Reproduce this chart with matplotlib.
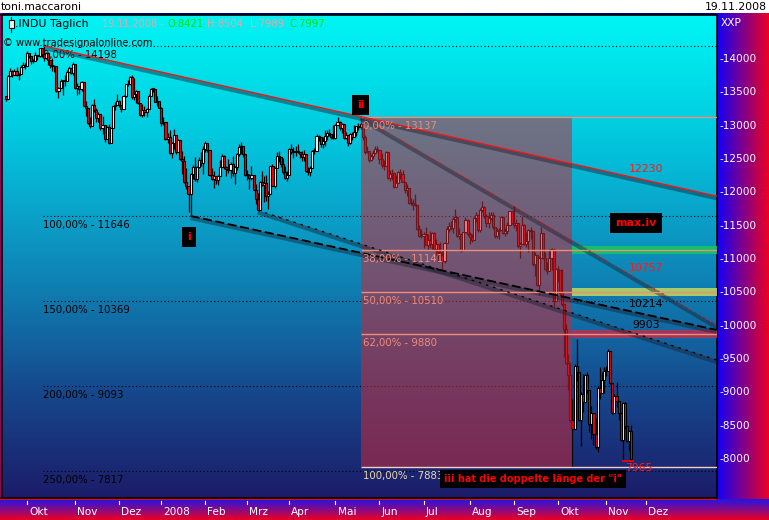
import numpy as np
import pandas as pd
import matplotlib
matplotlib.use("Agg")
import matplotlib.pyplot as plt
from matplotlib.patches import Rectangle
from matplotlib import transforms

# .INDU daily candles, 17.09.2007 - 19.11.2008
opens = [
    13441, 13403, 13739, 13815, 13767, 13820, 13759, 13779, 13878, 13913,
    13896, 14088, 14047, 13968, 13974, 14066, 14044, 14165, 14079, 14015, 14093, 13985,
    13913, 13893, 13889, 13522, 13567, 13676, 13675, 13672, 13807, 13870, 13792,
    13930, 13568, 13595, 13543, 13661, 13300, 13266, 13043, 12988, 13307, 13231, 13110,
    13177, 12958, 13010, 12799, 12981, 12743, 12958, 13289, 13312,
    13372, 13315, 13249, 13445, 13620, 13626, 13727, 13433, 13474, 13518, 13340, 13167,
    13232, 13207, 13246, 13451, 13549, 13552, 13360, 13366,
    13265, 13044, 13057, 12800, 12827, 12589, 12735, 12853, 12606, 12778, 12501, 12466,
    12159, 12099, 11971, 12270, 12379, 12207, 12384, 12480, 12443,
    12650, 12743, 12635, 12265, 12200, 12247, 12182, 12240, 12373, 12552, 12377, 12348,
    12337, 12427, 12284, 12381, 12570, 12685, 12694, 12582,
    12266, 12259, 12214, 12255, 12040, 11894, 11740, 12157, 12110, 12146, 11951, 11972,
    12393, 12100, 12361, 12549, 12533, 12423, 12302, 12216,
    12263, 12654, 12606, 12626, 12609, 12612, 12576, 12527, 12582, 12325, 12302, 12362,
    12619, 12620, 12849, 12825, 12720, 12763, 12849, 12892, 12872, 12831,
    12820, 13010, 13058, 12970, 13021, 12814, 12867, 12746, 12876, 12832, 12898, 12993,
    12987, 13028, 12829, 12601, 12626, 12480, 12548, 12594, 12646,
    12638, 12504, 12403, 12390, 12604, 12210, 12280, 12290, 12084, 12142, 12307, 12269,
    12160, 12029, 12063, 11843, 11842, 11807, 11812, 11453, 11347,
    11350, 11382, 11216, 11289, 11232, 11384, 11147, 11229, 11101, 11055, 10963, 11239,
    11447, 11497, 11467, 11603, 11632, 11349, 11371, 11131, 11398, 11584,
    11378, 11326, 11284, 11616, 11656, 11431, 11734, 11782, 11642, 11533, 11616, 11660,
    11479, 11349, 11417, 11430, 11628, 11386, 11413, 11503, 11715,
    11544, 11517, 11533, 11188, 11221, 11511, 11231, 11269, 11434, 11422, 10918, 11059,
    10610, 11020, 11388, 11016, 10854, 10825, 11022, 11143, 10365,
    10851, 10831, 10483, 10325, 9956, 9447, 9258, 8579, 8451, 9388, 9311, 8578,
    8979, 8852, 9265, 9034, 8519, 8691, 8379, 8176, 9065, 8991, 9181,
    9325, 9320, 9625, 9139, 8696, 8944, 8871, 8694, 8283, 8835, 8497, 8274, 8421,
]
highs = [
    13441, 13758, 13872, 13833, 13850, 13880, 13787, 13914, 13958, 13942,
    14116, 14090, 14052, 14000, 14105, 14066, 14169, 14165, 14198, 14100, 14093, 13985,
    14010, 13910, 13889, 13580, 13700, 13680, 13760, 13830, 13900, 13870, 13950,
    13930, 13640, 13600, 13670, 13661, 13370, 13266, 13130, 13320, 13400, 13260, 13210,
    13180, 13150, 13010, 12990, 13030, 12970, 13300, 13350, 13480,
    13390, 13315, 13460, 13630, 13680, 13750, 13760, 13720, 13530, 13518, 13340, 13320,
    13290, 13260, 13470, 13560, 13570, 13552, 13450, 13366,
    13280, 13130, 13057, 12890, 12930, 12750, 12950, 12853, 12800, 12778, 12620, 12540,
    12360, 12099, 12290, 12410, 12530, 12400, 12530, 12610, 12700,
    12770, 12743, 12635, 12370, 12320, 12250, 12260, 12480, 12580, 12560, 12390, 12500,
    12460, 12550, 12400, 12590, 12730, 12760, 12694, 12582,
    12330, 12270, 12400, 12255, 12130, 11990, 12170, 12320, 12250, 12260, 12020, 12400,
    12420, 12380, 12610, 12620, 12533, 12510, 12400, 12320,
    12670, 12730, 12680, 12700, 12730, 12612, 12620, 12640, 12582, 12380, 12400, 12640,
    12670, 12880, 12860, 12825, 12830, 12940, 12940, 12950, 12880, 13010,
    13020, 13130, 13070, 13040, 13030, 12910, 12867, 12890, 12910, 13010, 13000, 13040,
    13137, 13028, 12860, 12690, 12626, 12580, 12630, 12700, 12690,
    12640, 12590, 12490, 12620, 12604, 12330, 12350, 12300, 12260, 12320, 12350, 12330,
    12160, 12130, 12063, 11920, 11900, 11970, 11812, 11510, 11450,
    11400, 11480, 11380, 11420, 11400, 11400, 11300, 11229, 11250, 11120, 11250, 11500,
    11560, 11570, 11630, 11750, 11632, 11460, 11371, 11410, 11630, 11600,
    11400, 11370, 11630, 11710, 11656, 11760, 11870, 11790, 11680, 11700, 11710, 11700,
    11480, 11460, 11460, 11640, 11628, 11470, 11560, 11720, 11715,
    11790, 11600, 11533, 11250, 11650, 11530, 11400, 11450, 11480, 11422, 11110, 11059,
    11050, 11480, 11390, 11110, 10950, 11150, 11160, 11143, 10870,
    10900, 10831, 10850, 10325, 10030, 9580, 9450, 8900, 9430, 9794, 9311, 9010,
    9270, 9280, 9310, 9034, 8800, 8691, 8620, 9100, 9380, 9300, 9380,
    9400, 9654, 9625, 9139, 8970, 9150, 8871, 8694, 8850, 8850, 8500, 8440, 8504,
]
lows = [
    13363, 13397, 13739, 13734, 13767, 13743, 13680, 13779, 13878, 13856,
    13896, 14012, 13920, 13940, 13974, 13990, 14034, 14030, 13970, 14000, 13912, 13870,
    13820, 13800, 13510, 13410, 13560, 13460, 13600, 13672, 13807, 13780, 13760,
    13550, 13460, 13470, 13520, 13290, 13150, 13020, 12960, 12988, 13200, 13060, 13060,
    12930, 12870, 12760, 12799, 12720, 12740, 12958, 13230, 13312,
    13280, 13200, 13249, 13430, 13600, 13620, 13400, 13380, 13340, 13320, 13140, 13130,
    13150, 13130, 13246, 13451, 13500, 13350, 13290, 13260,
    12990, 13010, 12790, 12740, 12580, 12520, 12650, 12580, 12606, 12480, 12280, 12140,
    12050, 11700, 11646, 12200, 12170, 12150, 12360, 12400, 12280,
    12600, 12610, 12250, 12190, 12070, 12120, 12110, 12240, 12373, 12350, 12250, 12290,
    12220, 12250, 12130, 12340, 12540, 12580, 12530, 12250,
    12180, 12050, 12180, 12030, 11830, 11731, 11740, 12090, 11860, 11870, 11750, 11972,
    12090, 12070, 12361, 12460, 12380, 12280, 12200, 12170,
    12263, 12570, 12520, 12540, 12590, 12520, 12470, 12470, 12300, 12260, 12250, 12362,
    12570, 12620, 12770, 12680, 12670, 12700, 12780, 12850, 12800, 12800,
    12800, 13010, 12940, 12890, 12800, 12800, 12700, 12720, 12780, 12832, 12850, 12930,
    12950, 12780, 12580, 12590, 12460, 12470, 12500, 12580, 12610,
    12430, 12370, 12340, 12390, 12200, 12170, 12190, 12070, 12080, 12142, 12200, 12150,
    11990, 11940, 11820, 11810, 11730, 11790, 11440, 11330, 11310,
    11170, 11210, 11140, 11170, 11130, 11140, 11060, 10960, 11040, 10827, 10940, 11239,
    11400, 11430, 11390, 11560, 11330, 11300, 11110, 11131, 11390, 11350,
    11220, 11250, 11284, 11560, 11400, 11400, 11700, 11610, 11480, 11460, 11590, 11450,
    11310, 11310, 11300, 11430, 11370, 11340, 11380, 11503, 11530,
    11470, 11420, 11170, 11010, 11221, 11210, 11180, 11100, 11300, 10900, 10740, 10590,
    10460, 11020, 11000, 10840, 10780, 10825, 10830, 10270, 10365,
    10650, 10440, 10300, 9525, 9430, 9040, 8560, 7883, 8451, 9163, 8570, 8200,
    8700, 8850, 8990, 8400, 8300, 8210, 8150, 8110, 8900, 8990, 8990,
    9250, 9320, 9120, 8670, 8690, 8780, 8590, 8270, 7965, 8450, 8250, 8130, 7989,
]
closes = [
    13403, 13739, 13816, 13767, 13820, 13759, 13779, 13878, 13913, 13896,
    14088, 14047, 13968, 13974, 14066, 14044, 14165, 14079, 14015, 14093, 13985, 13913,
    13893, 13889, 13522, 13567, 13676, 13675, 13672, 13807, 13870, 13792, 13930,
    13568, 13595, 13543, 13661, 13300, 13266, 13043, 12988, 13307, 13231, 13110, 13177,
    12958, 13010, 12799, 12981, 12743, 12958, 13289, 13312, 13372,
    13315, 13249, 13445, 13620, 13626, 13727, 13433, 13474, 13518, 13340, 13167, 13232,
    13207, 13246, 13451, 13549, 13552, 13360, 13366, 13265,
    13044, 13057, 12800, 12827, 12589, 12735, 12853, 12606, 12778, 12501, 12466, 12159,
    12099, 11971, 12270, 12379, 12207, 12384, 12480, 12443, 12650,
    12743, 12635, 12265, 12200, 12247, 12182, 12240, 12373, 12552, 12377, 12348, 12337,
    12427, 12284, 12381, 12570, 12685, 12694, 12582, 12266,
    12259, 12214, 12255, 12040, 11894, 11740, 12157, 12110, 12146, 11951, 11972, 12393,
    12100, 12361, 12549, 12533, 12423, 12302, 12216, 12263,
    12654, 12606, 12626, 12609, 12612, 12576, 12527, 12582, 12325, 12302, 12362, 12619,
    12620, 12849, 12825, 12720, 12763, 12849, 12892, 12872, 12831, 12820,
    13010, 13058, 12970, 13021, 12814, 12867, 12746, 12876, 12832, 12898, 12993, 12987,
    13028, 12829, 12601, 12626, 12480, 12548, 12594, 12646, 12638,
    12504, 12403, 12390, 12604, 12210, 12280, 12290, 12084, 12142, 12307, 12269, 12160,
    12029, 12063, 11843, 11842, 11807, 11812, 11453, 11347, 11350,
    11382, 11216, 11289, 11232, 11384, 11147, 11229, 11101, 11055, 10963, 11239, 11447,
    11497, 11467, 11603, 11632, 11349, 11371, 11131, 11398, 11584, 11378,
    11326, 11284, 11616, 11656, 11431, 11734, 11782, 11642, 11533, 11616, 11660, 11479,
    11349, 11417, 11430, 11628, 11386, 11413, 11503, 11715, 11544,
    11517, 11533, 11188, 11221, 11511, 11231, 11269, 11434, 11422, 10918, 11059, 10610,
    11020, 11388, 11016, 10854, 10825, 11022, 11143, 10365, 10851,
    10831, 10483, 10325, 9956, 9447, 9258, 8579, 8451, 9388, 9311, 8578, 8979,
    8852, 9265, 9034, 8519, 8691, 8379, 8176, 9065, 8991, 9181, 9325,
    9320, 9625, 9139, 8696, 8944, 8871, 8694, 8283, 8835, 8497, 8274, 8425, 7997,
]

holidays = ["2007-11-22", "2007-12-25", "2008-01-01", "2008-01-21", "2008-02-18",
            "2008-03-21", "2008-05-26", "2008-07-04", "2008-09-01", "2008-11-27",
            "2008-12-25"]
month_labels = ["Okt", "Nov", "Dez", "2008", "Feb", "Mrz", "Apr", "Mai", "Jun",
                "Jul", "Aug", "Sep", "Okt", "Nov", "Dez"]
y_ticks = [14000, 13500, 13000, 12500, 12000, 11500, 11000, 10500, 10000,
           9500, 9000, 8500, 8000]

# fib extension (left) and retracement (right)
ext_levels = [14198, 11646, 10369, 9093, 7817]
ext_labels = ["0,00% - 14198", "100,00% - 11646", "150,00% - 10369",
              "200,00% - 9093", "250,00% - 7817"]
ret_levels = [13137, 11141, 10510, 9880, 7883]
ret_labels = ["0,00% - 13137", "38,00% - 11141", "50,00% - 10510",
              "62,00% - 9880", "100,00% - 7883"]
ret_start, ret_end = "2008-05-19", "2008-10-10"
band_levels = [11141, 10510, 9880]
band_colors = ["#14c464", "#b4d264", "#aa3458"]

# trend lines: anchor date, anchor value, value on last bar
trend_lines = [
    ("2007-10-11", 14198, 12230),
    ("2008-05-19", 13137, 10757),
    ("2008-01-23", 11646, 10214),
    ("2008-03-10", 11731, 9903),
]
low_mark = ("2008-11-13", 7965)

n = len(closes)
days = pd.bdate_range("2007-09-17", "2008-12-31", freq="C", holidays=holidays)
pos = {d.strftime("%Y-%m-%d"): i for i, d in enumerate(days)}
x = np.arange(n)
o = np.array(opens); h = np.array(highs); l = np.array(lows); c = np.array(closes)

W, H = 769, 520
fig = plt.figure(figsize=(W / 100, H / 100), dpi=100)
fig.patch.set_facecolor("white")


def px_axes(x0, y0, x1, y1, z):
    a = fig.add_axes([x0 / W, 1 - y1 / H, (x1 - x0) / W, (y1 - y0) / H], zorder=z)
    return a


# frame / gradient strips
bg = px_axes(0, 0, W, H, -1)
bg.set_xlim(0, W); bg.set_ylim(H, 0); bg.axis("off")
t = np.linspace(0, 1, 64)
blue, red = np.array([15, 0, 250]), np.array([235, 0, 35])
hgrad = (blue[None, :] * (1 - t[:, None]) + red[None, :] * t[:, None]) / 255
bg.imshow(hgrad[None, :, :], extent=(716, W, 500, 13), aspect="auto", interpolation="bilinear")
vtop = np.array([35, 20, 230])
vgrad = (vtop[None, :] * (1 - t[:, None]) + red[None, :] * t[:, None]) / 255
bg.imshow(vgrad[:, None, :], extent=(0, W, H, 499), aspect="auto", interpolation="bilinear")
bg.add_patch(Rectangle((0, 12.5), 716, 2.5, color="#00008c", lw=0))
bg.add_patch(Rectangle((0, 13), 1.6, 486, color="#9a0060", lw=0))
bg.add_patch(Rectangle((0, 497.5), 717, 2.5, color="#e6001e", lw=0))
bg.set_xlim(0, W); bg.set_ylim(H, 0)

ax = px_axes(1.5, 15, 716.5, 498, 1)
xmin = pos["2007-10-01"] - (27 - 1.5) / 2.098
xmax = pos["2007-10-01"] + (716.5 - 27) / 2.098
ymax = 14000 + (59 - 15) * 15
ymin = ymax - (498 - 15) * 15

stops = [(0.0, (0, 245, 245)), (0.10, (0, 228, 236)), (0.25, (2, 200, 222)),
         (0.42, (10, 160, 200)), (0.60, (16, 118, 172)), (0.78, (22, 72, 140)),
         (1.0, (28, 28, 105))]
ff = np.linspace(0, 1, 256)
grad = np.stack([np.interp(ff, [s[0] for s in stops], [s[1][k] for s in stops])
                 for k in range(3)], axis=1) / 255
ax.imshow(grad[:, None, :], extent=(0, 1, 0, 1), transform=ax.transAxes,
          aspect="auto", interpolation="bilinear", zorder=0)
ax.set_xlim(xmin, xmax); ax.set_ylim(ymin, ymax)
ax.set_xticks([]); ax.set_yticks([])
for s in ax.spines.values():
    s.set_color("black"); s.set_linewidth(1.2)

# fib extension dotted lines
x_ext = pos["2007-10-11"] - 0.4
ax.hlines(ext_levels, x_ext, xmax, colors="black", linestyles=(0, (1, 2.2)), lw=0.8, zorder=1)
for v, lab in zip(ext_levels, ext_labels):
    ax.annotate(lab, (x_ext, v), xytext=(0, -9), textcoords="offset pixels",
                ha="left", va="center", fontsize=7.3, color="black", zorder=2)

# candles
up = c >= o
body_lo = np.minimum(o, c)
body_h = np.maximum(np.abs(c - o), 12)
ax.vlines(x, l, h, color="black", lw=0.9, zorder=3)
ax.bar(x, body_h, bottom=body_lo, width=1.0, color=np.where(up, "white", "#ff0000"),
       edgecolor="black", linewidth=0.8, zorder=4)

# retracement box
xr0, xr1 = pos[ret_start], pos[ret_end]
ax.add_patch(Rectangle((xr0, ret_levels[-1]), xr1 - xr0, ret_levels[0] - ret_levels[-1],
                       facecolor=(0.78, 0.16, 0.22), alpha=0.55, lw=0, zorder=5))
for v, col in zip(band_levels, band_colors):
    ax.add_patch(Rectangle((xr1, v - 60), xmax - xr1, 120, facecolor=col,
                           alpha=0.92, lw=0, zorder=5))
ax.hlines(ret_levels[:-1], xr0, xmax, colors="#f08c78", lw=1.0, zorder=7)
ax.hlines(ret_levels[-1], xr0, xmax, colors="#f0d0c8", lw=1.0, zorder=7)
for v, lab in zip(ret_levels, ret_labels):
    col = "#f0d8a8" if lab.startswith("100") else "#f08c78"
    ax.annotate(lab, (xr0, v), xytext=(2, -9), textcoords="offset pixels",
                ha="left", va="center", fontsize=7.3, color=col, zorder=8)

# trend lines with shadow
styles = [dict(color="#ff1010", ls="-", lw=0.9), dict(color="#ff1010", ls=(0, (1, 3)), lw=0.9),
          dict(color="black", ls=(0, (5, 2)), lw=1.3), dict(color="black", ls=(0, (2, 4)), lw=0.9)]
lab_cols = ["#ff1a1a", "#ff1a1a", "black", "black"]
lab_off = [11, 16, 11, 12]
for (d0, v0, v1), st, lc, off in zip(trend_lines, styles, lab_cols, lab_off):
    p0 = pos[d0]
    slope = (v1 - v0) / (n - 1 - p0)
    xs = np.array([p0, xmax])
    ys = v0 + slope * (xs - p0)
    ax.plot(xs, ys - 32, color=(0.1, 0.12, 0.18), alpha=0.45, lw=3.0,
            solid_capstyle="butt", zorder=6)
    ax.plot(xs, ys, zorder=7, **st)
    xl = pos["2007-10-01"] + (646 - 27) / 2.098
    ax.annotate(str(v1), (xl, v0 + slope * (xl - p0)), xytext=(0, off),
                textcoords="offset pixels", ha="center", va="center",
                fontsize=7.8, color=lc, zorder=8)

# low marker
xm = pos[low_mark[0]]
ax.hlines(low_mark[1], xm - 0.5, n + 0.5, colors="#ff0000", lw=1.2, zorder=8)
ax.annotate(str(low_mark[1]), (n - 1, low_mark[1]), xytext=(8, -7),
            textcoords="offset pixels", ha="center", va="center",
            fontsize=7.8, color="#ff1a1a", zorder=8)


# black tag boxes
def tag(xp, v, s, fs=8):
    ax.text(xp, v, s, ha="center", va="center", fontsize=fs, color="#ff0000",
            fontweight="bold", zorder=9,
            bbox=dict(boxstyle="square,pad=0.45", fc="black", ec="none"))


tag(pos["2008-05-19"], 13310, "ii")
tag(pos["2008-01-23"] - 0.8, 11330, "i")
tag(pos["2007-10-01"] + (636 - 27) / 2.098, 11540, "max.iv")
tag(pos["2007-10-01"] + (533 - 27) / 2.098, 7700, 'iii hat die doppelte länge der "i"', fs=7.0)

# pixel overlay for header and axis labels
top = px_axes(0, 0, W, H, 10)
top.set_xlim(0, W); top.set_ylim(H, 0); top.axis("off"); top.patch.set_alpha(0)
top.text(1, 7, "toni.maccaroni", fontsize=7.8, va="center", ha="left", color="black")
top.text(767, 7, "19.11.2008", fontsize=7.8, va="center", ha="right", color="black")
top.add_patch(Rectangle((8.5, 20), 5.5, 8, fc="#f0fff0", ec="black", lw=0.8))
top.plot([11.25, 11.25], [16.5, 20], color="black", lw=0.8)
top.plot([11.25, 11.25], [28, 31.5], color="black", lw=0.8)
pink, green = "#f0a0a8", "#00e000"
hdr = [(15, ".INDU Täglich", "black", 7.9), (102, "19.11.2008 -", pink, 7.0),
       (168, "O:%d" % opens[-1], green, 7.2), (207, "H:%d" % highs[-1], pink, 7.2),
       (250, "L:%d" % lows[-1], pink, 7.2), (289, "C:%d" % closes[-1], green, 7.2)]
for xp, s, col, fs in hdr:
    top.text(xp, 24, s, fontsize=fs, va="center", ha="left", color=col)
top.text(3, 43, "© www.tradesignalonline.com", fontsize=7.1, va="center", ha="left", color="black")
top.text(721, 23, "XXP", fontsize=7.6, va="center", ha="left", color="white")

yblend = transforms.blended_transform_factory(top.transData, ax.transData)
for v in y_ticks:
    top.text(719, v, "-%d" % v, transform=yblend, fontsize=7.6, va="center",
             ha="left", color="white")

months = days.to_period("M")
firsts = [i for i in range(1, len(days)) if months[i] != months[i - 1]]
xblend = transforms.blended_transform_factory(ax.transData, top.transData)
for i, lab in zip(firsts, month_labels):
    top.plot([i, i], [500.5, 504], transform=xblend, color="white", lw=0.8)
    top.text(i + 1.0, 512, lab, transform=xblend, fontsize=7.6, va="center",
             ha="left", color="white")

fig.savefig("out.png", dpi=100, facecolor=fig.get_facecolor())
